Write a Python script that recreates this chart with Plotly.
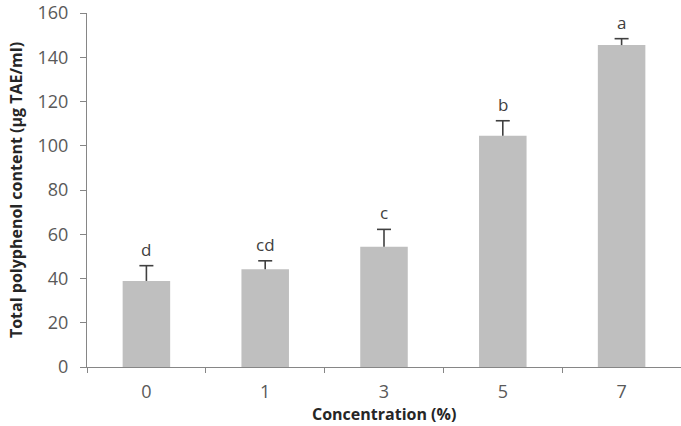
import plotly.graph_objects as go

categories = ["0", "1", "3", "5", "7"]
values = [38.9, 44.2, 54.4, 104.5, 145.5]
errors = [6.9, 3.8, 7.8, 6.8, 2.9]
letters = ["d", "cd", "c", "b", "a"]
y_ticks = [0, 20, 40, 60, 80, 100, 120, 140, 160]

FONT = "Open Sans"
AX = "#868686"
TXT = "#595959"
ERR = "#404040"

tops = [v + e for v, e in zip(values, errors)]

fig = go.Figure()
fig.add_trace(go.Bar(
    x=categories, y=values, width=0.4,
    marker=dict(color="#BFBFBF", line=dict(width=0)),
    error_y=dict(type="data", array=errors, arrayminus=[0]*len(errors), symmetric=False,
                 color=ERR, thickness=1.6, width=0),
    showlegend=False,
))
# top caps of the error bars only
fig.add_trace(go.Scatter(
    x=categories, y=tops, mode="markers",
    marker=dict(symbol="line-ew", size=10, line=dict(color=ERR, width=1.6)),
    showlegend=False, hoverinfo="skip",
))

for i, (top, t) in enumerate(zip(tops, letters)):
    fig.add_annotation(x=i, y=top, text=t, showarrow=False, yanchor="bottom",
                       yshift=3, font=dict(family=FONT, size=17, color="#404040"))

# x-axis title, placed near the bottom edge as in the reference
fig.add_annotation(xref="paper", yref="paper", x=0.5, y=0, yanchor="top",
                   yshift=-35, borderpad=0, showarrow=False, text="<b>Concentration (%)</b>",
                   font=dict(family=FONT, size=16, color="#262626"))

fig.update_layout(
    width=681, height=426,
    margin=dict(l=87, r=0, t=13, b=59),
    plot_bgcolor="white", paper_bgcolor="white",
    font=dict(family=FONT, size=17, color=TXT),
)
fig.update_xaxes(
    type="category", range=[-0.5, 4.5], automargin=False,
    showline=True, linecolor=AX, linewidth=1,
    ticks="outside", tickson="boundaries", ticklen=5, tickcolor=AX,
    showgrid=False, zeroline=False,
    tickfont=dict(family=FONT, size=18, color=TXT),
    ticklabelstandoff=8,
)
fig.update_yaxes(
    range=[0, 160], tickvals=y_ticks, automargin=False,
    showline=True, linecolor=AX, linewidth=1,
    ticks="outside", ticklen=6, tickcolor=AX,
    showgrid=False, zeroline=False,
    tickfont=dict(family=FONT, size=18, color=TXT),
    ticklabelstandoff=8,
    title=dict(text="<b>Total polyphenol content (µg TAE/ml)</b>", font=dict(family=FONT, size=16, color="#262626"), standoff=10),
)

fig.write_html("out.html")
